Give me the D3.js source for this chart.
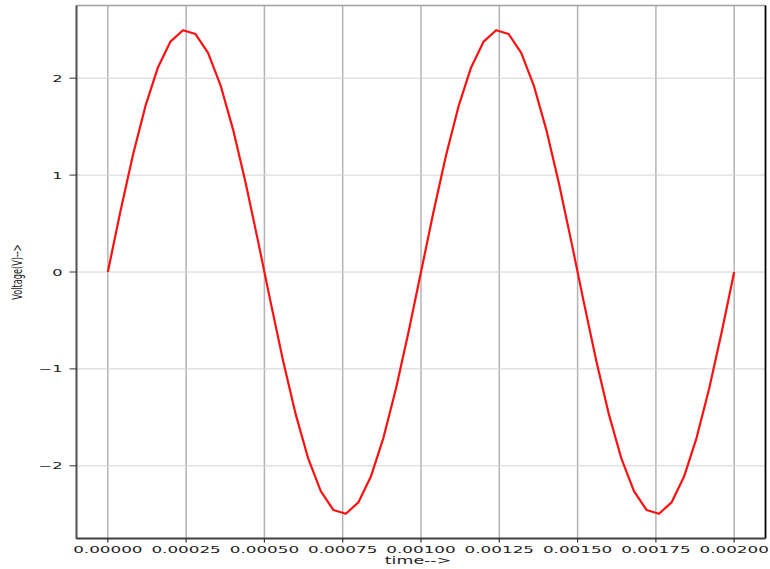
<!DOCTYPE html>
<html><head><meta charset="utf-8">
<script src="https://cdn.jsdelivr.net/npm/d3@7"></script>
<style>body{margin:0;background:#fff;} svg{display:block;} text{font-family:"DejaVu Sans",sans-serif;}</style>
</head><body>
<script>
const time = [0,0.00004,0.00008,0.00012,0.00016,0.0002,0.00024,0.00028,0.00032,0.00036,0.0004,0.00044,0.00048,0.00052,0.00056,0.0006,0.00064,0.00068,0.00072,0.00076,0.0008,0.00084,0.00088,0.00092,0.00096,0.001,
0.00104,0.00108,0.00112,0.00116,0.0012,0.00124,0.00128,0.00132,0.00136,0.0014,0.00144,0.00148,0.00152,0.00156,0.0016,0.00164,0.00168,0.00172,0.00176,0.0018,0.00184,0.00188,0.00192,0.00196,0.002];
const voltage = [0,0.6217,1.2044,1.7114,2.1108,2.3776,2.4951,2.4557,2.2621,1.9263,1.4695,0.9203,0.3133,-0.3133,-0.9203,-1.4695,-1.9263,-2.2621,-2.4557,-2.4951,-2.3776,-2.1108,-1.7114,-1.2044,-0.6217,0,
0.6217,1.2044,1.7114,2.1108,2.3776,2.4951,2.4557,2.2621,1.9263,1.4695,0.9203,0.3133,-0.3133,-0.9203,-1.4695,-1.9263,-2.2621,-2.4557,-2.4951,-2.3776,-2.1108,-1.7114,-1.2044,-0.6217,0];
const xTicks = [0,0.00025,0.0005,0.00075,0.001,0.00125,0.0015,0.00175,0.002];
const xTickLabels = ["0.00000","0.00025","0.00050","0.00075","0.00100","0.00125","0.00150","0.00175","0.00200"];
const yTicks = [-2,-1,0,1,2];
const yTickLabels = ["\u22122","\u22121","0","1","2"];
const xLabel = "time-->";
const yLabel = "Voltage(V)-->";

const W = 770, H = 569;
const L = 76.5, R = 765.5, T = 5.5, B = 538.5;
const svg = d3.select("body").append("svg").attr("width", W).attr("height", H);
const x = d3.scaleLinear().domain([-0.0001, 0.0021]).range([L, R]);
const y = d3.scaleLinear().domain([-2.75, 2.75]).range([B, T]);

// grid
const g = svg.append("g");
g.selectAll("line.vg").data(xTicks).join("line")
  .attr("x1", d => x(d)).attr("x2", d => x(d)).attr("y1", T).attr("y2", B)
  .attr("stroke", "#b4b4b4").attr("stroke-width", 1.5);
g.selectAll("line.hg").data(yTicks).join("line")
  .attr("x1", L).attr("x2", R).attr("y1", d => y(d)).attr("y2", d => y(d))
  .attr("stroke", "#d2d2d2").attr("stroke-width", 1);

// line
const line = d3.line().x((d, i) => x(time[i])).y(d => y(d));
svg.append("path").datum(voltage).attr("d", line)
  .attr("fill", "none").attr("stroke", "#ff1010").attr("stroke-width", 2.2)
  .attr("stroke-linejoin", "round");

// spines
svg.append("line").attr("x1", L).attr("x2", R).attr("y1", T).attr("y2", T).attr("stroke", "#a0a0a0").attr("stroke-width", 1.5);
svg.append("line").attr("x1", R).attr("x2", R).attr("y1", T).attr("y2", B).attr("stroke", "#000").attr("stroke-width", 1.8);
svg.append("line").attr("x1", L).attr("x2", L).attr("y1", T).attr("y2", B + 0.5).attr("stroke", "#505050").attr("stroke-width", 2);
svg.append("line").attr("x1", L).attr("x2", R).attr("y1", B).attr("y2", B).attr("stroke", "#404040").attr("stroke-width", 2);

// x ticks
const xt = svg.append("g");
xTicks.forEach((d, i) => {
  xt.append("line").attr("x1", x(d)).attr("x2", x(d)).attr("y1", B).attr("y2", B + 4).attr("stroke", "#333").attr("stroke-width", 1.2);
  xt.append("text").attr("transform", `translate(${x(d)},${B + 14}) scale(1.4,0.78)`)
    .attr("text-anchor", "middle").attr("font-size", 12).attr("fill", "#222").text(xTickLabels[i]);
});
// y ticks
const yt = svg.append("g");
yTicks.forEach((d, i) => {
  yt.append("line").attr("x1", L - 7).attr("x2", L).attr("y1", y(d)).attr("y2", y(d)).attr("stroke", "#333").attr("stroke-width", 1);
  yt.append("text").attr("transform", `translate(${L - 14},${y(d) + 3.5}) scale(1.35,0.78)`)
    .attr("text-anchor", "end").attr("font-size", 12).attr("fill", "#222").text(yTickLabels[i]);
});

// axis labels
svg.append("text").attr("transform", `translate(${418},${B + 25}) scale(1.45,0.8)`)
  .attr("text-anchor", "middle").attr("font-size", 12).attr("fill", "#222").text(xLabel);
svg.append("text").attr("transform", `translate(22,272) rotate(-90) scale(0.68,1.1)`)
  .attr("text-anchor", "middle").attr("font-size", 12).attr("fill", "#222").text(yLabel);
</script>
</body></html>
